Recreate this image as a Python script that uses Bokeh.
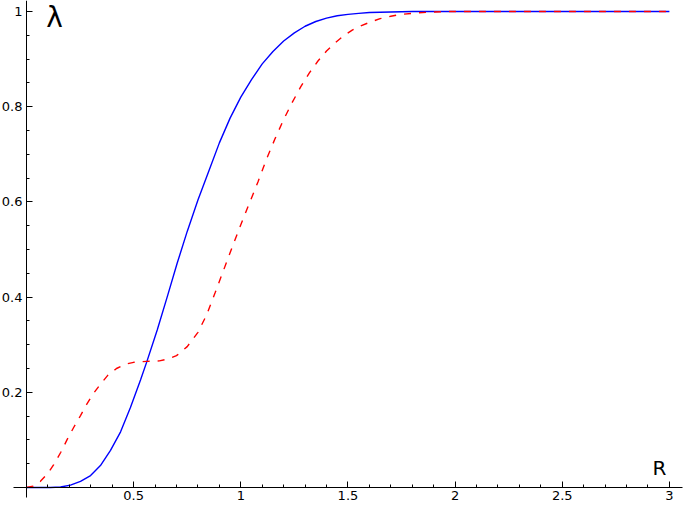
from bokeh.plotting import figure
from bokeh.models import LinearAxis, FixedTicker, Range1d, Label
from bokeh.embed import file_html
from bokeh.resources import INLINE

# ---- data ----
blue_x = [0.0, 0.06, 0.112, 0.159, 0.205, 0.252, 0.299, 0.345, 0.392, 0.439, 0.485, 0.532, 0.562,
          0.610, 0.657, 0.703, 0.75, 0.80, 0.85, 0.90, 0.95, 1.00, 1.05, 1.10, 1.15, 1.20, 1.25,
          1.30, 1.35, 1.40, 1.45, 1.50, 1.55, 1.60, 1.70, 1.80, 2.0, 2.5, 3.0]
blue_y = [0.0, 0.0, 0.0, 0.001, 0.005, 0.013, 0.025, 0.046, 0.078, 0.117, 0.168, 0.226, 0.265,
          0.331, 0.401, 0.471, 0.538, 0.604, 0.664, 0.724, 0.776, 0.820, 0.857, 0.890, 0.916, 0.938,
          0.955, 0.969, 0.979, 0.986, 0.991, 0.994, 0.996, 0.998, 0.999, 1.0, 1.0, 1.0, 1.0]

red_x = [0.0, 0.03, 0.065, 0.10, 0.127, 0.16, 0.19, 0.22, 0.252, 0.28, 0.31, 0.345, 0.38, 0.42,
         0.46, 0.50, 0.56, 0.62, 0.66, 0.70, 0.75, 0.80, 0.84, 0.88, 0.92, 0.96, 1.00, 1.04, 1.08,
         1.12, 1.16, 1.20, 1.24, 1.28, 1.32, 1.36, 1.40, 1.44, 1.48, 1.52, 1.56, 1.60, 1.65, 1.70,
         1.75, 1.82, 1.90, 1.97, 2.5, 3.0]
red_y = [0.0, 0.003, 0.013, 0.030, 0.048, 0.074, 0.101, 0.126, 0.151, 0.174, 0.196, 0.217, 0.236,
         0.250, 0.259, 0.263, 0.265, 0.266, 0.270, 0.277, 0.296, 0.326, 0.362, 0.409, 0.457, 0.505,
         0.552, 0.597, 0.642, 0.690, 0.733, 0.773, 0.809, 0.842, 0.871, 0.896, 0.917, 0.934, 0.949,
         0.961, 0.970, 0.977, 0.985, 0.990, 0.994, 0.997, 0.999, 1.0, 1.0, 1.0]

x_ticks = [0.5, 1.0, 1.5, 2.0, 2.5, 3.0]
x_tick_labels = ["0.5", "1", "1.5", "2", "2.5", "3"]
x_minor = [round(0.1 * i, 2) for i in range(1, 31)]
y_ticks = [0.2, 0.4, 0.6, 0.8, 1.0]
y_tick_labels = ["0.2", "0.4", "0.6", "0.8", "1"]
y_minor = [round(0.05 * i, 3) for i in range(1, 21)]

W, H = 684, 505
# pixel placement of the origin / scale
x0px, xs = 26.0, 214.3
y0px, ys = 487.0, 476.0
x_start, x_end = -x0px / xs, (W - x0px) / xs
y_start, y_end = -(H - y0px) / ys, y0px / ys

p = figure(width=W, height=H, x_range=Range1d(x_start, x_end), y_range=Range1d(y_start, y_end),
           x_axis_type=None, y_axis_type=None, output_backend="svg", toolbar_location=None,
           min_border=0, outline_line_color=None, background_fill_color="white",
           border_fill_color="white")

p.line(blue_x, blue_y, line_color="#0000ff", line_width=1.4)
p.line(red_x, red_y, line_color="#ff0000", line_width=1.4, line_dash="7 8")

font = "DejaVu Sans"
common = dict(axis_line_color="black", axis_line_width=1,
              major_tick_in=6, major_tick_out=0, minor_tick_in=3, minor_tick_out=0,
              major_tick_line_color="black", minor_tick_line_color="black",
              major_label_text_font=font, major_label_text_font_size="13px",
              major_label_text_color="black")

xaxis = LinearAxis(fixed_location=0,
                   ticker=FixedTicker(ticks=x_ticks, minor_ticks=x_minor),
                   major_label_overrides={t: s for t, s in zip(x_ticks, x_tick_labels)},
                   bounds=(-0.0607, 3.061), major_label_standoff=3, **common)
p.add_layout(xaxis, "below")

yaxis = LinearAxis(fixed_location=0,
                   ticker=FixedTicker(ticks=y_ticks, minor_ticks=y_minor),
                   major_label_overrides={t: s for t, s in zip(y_ticks, y_tick_labels)},
                   bounds=(-0.021, y_end), major_label_standoff=4, **common)
p.add_layout(yaxis, "left")

p.add_layout(Label(x=0.092, y=0.987, text="λ", text_font=font, text_font_size="28px",
                   text_color="black", text_baseline="alphabetic"))
p.add_layout(Label(x=2.921, y=0.040, text="R", text_font=font, text_font_size="20px",
                   text_color="black", text_baseline="alphabetic"))

open("out.html", "w").write(file_html(p, INLINE))
